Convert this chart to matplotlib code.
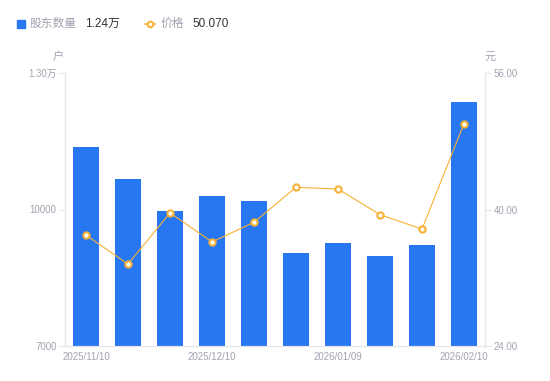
import numpy as np
import matplotlib
matplotlib.use("Agg")
from matplotlib import pyplot as plt
from matplotlib.patches import Rectangle
from matplotlib.lines import Line2D

plt.rcParams['font.family'] = ['Liberation Sans', 'Noto Sans CJK SC', 'DejaVu Sans']

dates = ["2025/11/10", "2025/11/20", "2025/11/28", "2025/12/10", "2025/12/19",
         "2025/12/31", "2026/01/09", "2026/01/20", "2026/01/30", "2026/02/10"]
holders = [11370, 10670, 9970, 10300, 10190, 9040, 9260, 8980, 9220, 12370]
price = [37.0, 33.6, 39.6, 36.2, 38.5, 42.6, 42.4, 39.4, 37.7, 50.07]

left_ticks = [7000, 10000, 13000]
left_labels = ["7000", "10000", "1.30万"]
right_ticks = [24, 40, 56]

BLUE = "#2877f2"
ORANGE = "#f7b134"
GRAY = "#a0a3b1"
AXC = "#e3e5ea"

fig = plt.figure(figsize=(5.5, 3.81), dpi=100)
ax = fig.add_axes([65/550, 35/381, 420/550, 273/381])
x = np.arange(len(dates))
ax.bar(x, holders, width=0.6, color=BLUE, zorder=2)
ax.set_xlim(-0.5, len(dates) - 0.5)
ax.set_ylim(7000, 13000)
ax.set_yticks(left_ticks)
ax.set_yticklabels(left_labels)
ax.set_xticks(x[::3])
ax.set_xticklabels([dates[i] for i in range(0, len(dates), 3)])

ax2 = ax.twinx()
ax2.plot(x, price, color=ORANGE, lw=0.8, marker="o", ms=4.5,
         mfc="white", mec=ORANGE, mew=1.5, zorder=3)
ax2.set_ylim(24, 56)
ax2.set_yticks(right_ticks)
ax2.set_yticklabels(["%.2f" % v for v in right_ticks])

for a in (ax, ax2):
    for s in a.spines.values():
        s.set_color(AXC)
        s.set_linewidth(0.8)
    a.spines['top'].set_visible(False)
    a.tick_params(colors=AXC, labelcolor=GRAY, labelsize=7, length=4, width=0.8)
ax.tick_params(axis='x', length=0, pad=4)
ax.tick_params(axis='y', pad=2)
ax2.tick_params(axis='y', pad=2)

fig.text(58/550, 1 - 57/381, "户", color=GRAY, fontsize=8, ha="center", va="center")
fig.text(490/550, 1 - 57/381, "元", color=GRAY, fontsize=8, ha="center", va="center")

# legend
fig.patches.append(Rectangle((17/550, 1 - 28/381), 8/550, 8/381, transform=fig.transFigure,
                             color=BLUE, figure=fig))
fig.text(30/550, 1 - 24/381, "股东数量", color=GRAY, fontsize=8.5, va="center")
fig.text(85/550, 1 - 24/381, "1.24万", color="#333333", fontsize=8.5, va="center")
fig.lines.append(Line2D([145/550, 155/550], [1 - 24/381, 1 - 24/381], transform=fig.transFigure,
                        color=ORANGE, lw=1.2, figure=fig, zorder=1))
fig.lines.append(Line2D([150/550], [1 - 24/381], transform=fig.transFigure,
                        ls="none", marker="o", ms=4, mfc="white", mec=ORANGE,
                        mew=1.5, figure=fig, zorder=2))
fig.text(161/550, 1 - 24/381, "价格", color=GRAY, fontsize=8.5, va="center")
fig.text(192/550, 1 - 24/381, "50.070", color="#333333", fontsize=8.5, va="center")

fig.savefig("out.png", dpi=100)
